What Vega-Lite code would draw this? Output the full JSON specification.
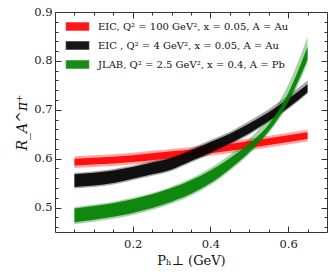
{
  "$schema": "https://vega.github.io/schema/vega-lite/v6.json",
  "width": 272,
  "height": 220,
  "autosize": "none",
  "padding": {"left": 55, "top": 12, "right": 5, "bottom": 48},
  "config": {
    "view": {"stroke": "#333", "strokeWidth": 1},
    "axis": {"domain": false, "grid": false, "tickColor": "#333", "tickWidth": 1, "labelFont": "DejaVu Serif", "labelFontSize": 11.5, "labelColor": "#222", "titleFont": "DejaVu Serif", "titleFontWeight": "normal", "titleColor": "#111"}
  },
  "data": {"values": [
    {"s": "r", "x": 0.05, "lo_o": 0.581, "lo_i": 0.586, "hi_i": 0.600, "hi_o": 0.605},
    {"s": "r", "x": 0.10, "lo_o": 0.583, "lo_i": 0.588, "hi_i": 0.602, "hi_o": 0.607},
    {"s": "r", "x": 0.15, "lo_o": 0.585, "lo_i": 0.590, "hi_i": 0.604, "hi_o": 0.609},
    {"s": "r", "x": 0.20, "lo_o": 0.588, "lo_i": 0.593, "hi_i": 0.607, "hi_o": 0.612},
    {"s": "r", "x": 0.25, "lo_o": 0.592, "lo_i": 0.597, "hi_i": 0.611, "hi_o": 0.616},
    {"s": "r", "x": 0.30, "lo_o": 0.596, "lo_i": 0.601, "hi_i": 0.615, "hi_o": 0.620},
    {"s": "r", "x": 0.35, "lo_o": 0.600, "lo_i": 0.605, "hi_i": 0.619, "hi_o": 0.624},
    {"s": "r", "x": 0.40, "lo_o": 0.606, "lo_i": 0.611, "hi_i": 0.625, "hi_o": 0.630},
    {"s": "r", "x": 0.45, "lo_o": 0.611, "lo_i": 0.616, "hi_i": 0.630, "hi_o": 0.635},
    {"s": "r", "x": 0.50, "lo_o": 0.617, "lo_i": 0.622, "hi_i": 0.636, "hi_o": 0.641},
    {"s": "r", "x": 0.55, "lo_o": 0.623, "lo_i": 0.628, "hi_i": 0.642, "hi_o": 0.647},
    {"s": "r", "x": 0.60, "lo_o": 0.629, "lo_i": 0.634, "hi_i": 0.648, "hi_o": 0.653},
    {"s": "r", "x": 0.65, "lo_o": 0.635, "lo_i": 0.640, "hi_i": 0.654, "hi_o": 0.659},
    {"s": "b", "x": 0.05, "lo_o": 0.539, "lo_i": 0.542, "hi_i": 0.568, "hi_o": 0.571},
    {"s": "b", "x": 0.10, "lo_o": 0.542, "lo_i": 0.545, "hi_i": 0.571, "hi_o": 0.574},
    {"s": "b", "x": 0.15, "lo_o": 0.547, "lo_i": 0.550, "hi_i": 0.576, "hi_o": 0.579},
    {"s": "b", "x": 0.20, "lo_o": 0.556, "lo_i": 0.559, "hi_i": 0.583, "hi_o": 0.586},
    {"s": "b", "x": 0.25, "lo_o": 0.565, "lo_i": 0.568, "hi_i": 0.592, "hi_o": 0.595},
    {"s": "b", "x": 0.30, "lo_o": 0.575, "lo_i": 0.578, "hi_i": 0.602, "hi_o": 0.605},
    {"s": "b", "x": 0.35, "lo_o": 0.592, "lo_i": 0.595, "hi_i": 0.617, "hi_o": 0.621},
    {"s": "b", "x": 0.40, "lo_o": 0.609, "lo_i": 0.612, "hi_i": 0.634, "hi_o": 0.638},
    {"s": "b", "x": 0.45, "lo_o": 0.628, "lo_i": 0.631, "hi_i": 0.651, "hi_o": 0.655},
    {"s": "b", "x": 0.50, "lo_o": 0.649, "lo_i": 0.652, "hi_i": 0.672, "hi_o": 0.677},
    {"s": "b", "x": 0.55, "lo_o": 0.674, "lo_i": 0.677, "hi_i": 0.695, "hi_o": 0.701},
    {"s": "b", "x": 0.60, "lo_o": 0.701, "lo_i": 0.704, "hi_i": 0.722, "hi_o": 0.729},
    {"s": "b", "x": 0.65, "lo_o": 0.733, "lo_i": 0.736, "hi_i": 0.752, "hi_o": 0.760},
    {"s": "g", "x": 0.05, "lo_o": 0.466, "lo_i": 0.470, "hi_i": 0.498, "hi_o": 0.501},
    {"s": "g", "x": 0.10, "lo_o": 0.471, "lo_i": 0.475, "hi_i": 0.503, "hi_o": 0.506},
    {"s": "g", "x": 0.15, "lo_o": 0.477, "lo_i": 0.481, "hi_i": 0.509, "hi_o": 0.512},
    {"s": "g", "x": 0.20, "lo_o": 0.485, "lo_i": 0.489, "hi_i": 0.517, "hi_o": 0.520},
    {"s": "g", "x": 0.25, "lo_o": 0.495, "lo_i": 0.499, "hi_i": 0.527, "hi_o": 0.530},
    {"s": "g", "x": 0.30, "lo_o": 0.508, "lo_i": 0.512, "hi_i": 0.540, "hi_o": 0.543},
    {"s": "g", "x": 0.35, "lo_o": 0.524, "lo_i": 0.528, "hi_i": 0.556, "hi_o": 0.560},
    {"s": "g", "x": 0.40, "lo_o": 0.546, "lo_i": 0.550, "hi_i": 0.576, "hi_o": 0.581},
    {"s": "g", "x": 0.45, "lo_o": 0.575, "lo_i": 0.579, "hi_i": 0.601, "hi_o": 0.608},
    {"s": "g", "x": 0.50, "lo_o": 0.609, "lo_i": 0.613, "hi_i": 0.631, "hi_o": 0.641},
    {"s": "g", "x": 0.55, "lo_o": 0.652, "lo_i": 0.656, "hi_i": 0.670, "hi_o": 0.683},
    {"s": "g", "x": 0.60, "lo_o": 0.710, "lo_i": 0.716, "hi_i": 0.734, "hi_o": 0.751},
    {"s": "g", "x": 0.65, "lo_o": 0.795, "lo_i": 0.803, "hi_i": 0.829, "hi_o": 0.849}
  ]},
  "resolve": {"axis": {"x": "independent", "y": "independent"}},
  "layer": [
    {
      "mark": {"type": "area", "interpolate": "monotone", "opacity": 0.35},
      "encoding": {
        "x": {"field": "x", "type": "quantitative", "scale": {"domain": [0, 0.7], "nice": false, "zero": false},
          "axis": {"orient": "bottom", "values": [0.05,0.1,0.15,0.2,0.25,0.3,0.35,0.4,0.45,0.5,0.55,0.6,0.65],
            "labelExpr": "abs(datum.value*5 - round(datum.value*5)) < 0.000001 ? format(datum.value, '.1f') : ''",
            "tickSize": {"condition": {"test": "abs(datum.value*5 - round(datum.value*5)) < 0.000001", "value": -6}, "value": -3},
            "labelPadding": 12, "labelFlush": false,
            "title": "Pₕ⊥ (GeV)", "titleFontSize": 13, "titlePadding": 5}},
        "y": {"field": "lo_o", "type": "quantitative", "scale": {"domain": [0.45, 0.9], "nice": false, "zero": false},
          "axis": {"orient": "left", "values": [0.46,0.48,0.5,0.52,0.54,0.56,0.58,0.6,0.62,0.64,0.66,0.68,0.7,0.72,0.74,0.76,0.78,0.8,0.82,0.84,0.86,0.88,0.9],
            "labelExpr": "abs(datum.value*10 - round(datum.value*10)) < 0.000001 ? format(datum.value, '.1f') : ''",
            "tickSize": {"condition": {"test": "abs(datum.value*10 - round(datum.value*10)) < 0.000001", "value": -6}, "value": -3},
            "labelPadding": 9, "labelFlush": false,
            "title": "R_A^π⁺", "titleFontSize": 14, "titleFontStyle": "italic", "titlePadding": 4}},
        "y2": {"field": "hi_o"},
        "color": {"field": "s", "type": "nominal",
          "scale": {"domain": ["r", "b", "g"], "range": ["#ff0000", "#000000", "#008000"]},
          "legend": {"orient": "none", "legendX": 14, "legendY": 6, "title": null, "padding": 0,
            "symbolType": "M-1.6,-0.6H1.6V0.6H-1.6Z", "symbolSize": 225, "symbolOpacity": 1,
            "symbolStrokeWidth": 1.2, "symbolStrokeColor": "rgba(255,255,255,0.55)",
            "rowPadding": 3, "labelOffset": 12, "labelFont": "DejaVu Serif", "labelFontSize": 10, "labelColor": "#111", "labelLimit": 400,
            "labelExpr": "datum.value == 'r' ? 'EIC, Q² = 100 GeV², x = 0.05, A = Au' : datum.value == 'b' ? 'EIC , Q² = 4 GeV², x = 0.05, A = Au' : 'JLAB, Q² = 2.5 GeV², x = 0.4, A = Pb'"}}
      }
    },
    {
      "mark": {"type": "area", "interpolate": "monotone", "opacity": 0.9},
      "encoding": {
        "x": {"field": "x", "type": "quantitative",
          "axis": {"orient": "top", "values": [0.05,0.1,0.15,0.2,0.25,0.3,0.35,0.4,0.45,0.5,0.55,0.6,0.65], "labels": false, "title": null,
            "tickSize": {"condition": {"test": "abs(datum.value*5 - round(datum.value*5)) < 0.000001", "value": -6}, "value": -3}}},
        "y": {"field": "lo_i", "type": "quantitative",
          "axis": {"orient": "right", "values": [0.46,0.48,0.5,0.52,0.54,0.56,0.58,0.6,0.62,0.64,0.66,0.68,0.7,0.72,0.74,0.76,0.78,0.8,0.82,0.84,0.86,0.88,0.9], "labels": false, "title": null,
            "tickSize": {"condition": {"test": "abs(datum.value*10 - round(datum.value*10)) < 0.000001", "value": -6}, "value": -3}}},
        "y2": {"field": "hi_i"},
        "color": {"field": "s", "type": "nominal"}
      }
    }
  ]
}
